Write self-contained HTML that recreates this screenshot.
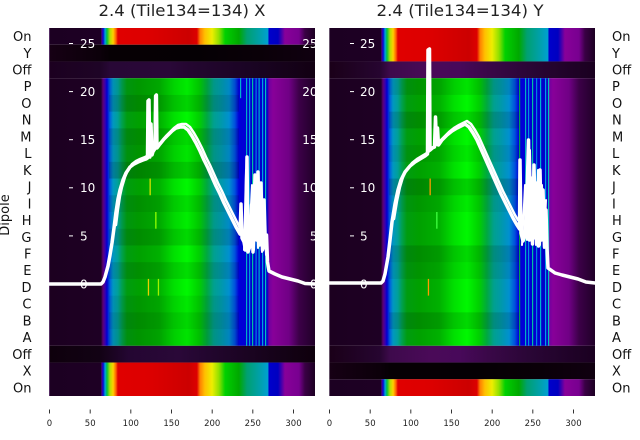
<!DOCTYPE html>
<html><head><meta charset="utf-8"><style>
html,body{margin:0;padding:0;background:#fff;}
svg{display:block;font-family:"DejaVu Sans","Liberation Sans",sans-serif;}
</style></head><body>
<svg width="640" height="440" viewBox="0 0 640 440" xmlns="http://www.w3.org/2000/svg">
<defs>
<linearGradient id="mid" gradientUnits="userSpaceOnUse" x1="0" y1="0" x2="266" y2="0">
<stop offset="0" stop-color="#1c0020"/><stop offset="0.195" stop-color="#1e0024"/>
<stop offset="0.203" stop-color="#5c0075"/><stop offset="0.211" stop-color="#3a00b0"/>
<stop offset="0.218" stop-color="#0000d0"/><stop offset="0.229" stop-color="#0060dd"/>
<stop offset="0.241" stop-color="#0098c0"/><stop offset="0.259" stop-color="#00a098"/>
<stop offset="0.274" stop-color="#00a050"/><stop offset="0.293" stop-color="#009c10"/>
<stop offset="0.338" stop-color="#00a000"/><stop offset="0.414" stop-color="#00b000"/>
<stop offset="0.470" stop-color="#00e000"/><stop offset="0.519" stop-color="#00f800"/>
<stop offset="0.564" stop-color="#00d000"/><stop offset="0.594" stop-color="#00a840"/>
<stop offset="0.620" stop-color="#00a090"/><stop offset="0.647" stop-color="#0099aa"/>
<stop offset="0.677" stop-color="#0090d0"/><stop offset="0.699" stop-color="#0050dd"/>
<stop offset="0.714" stop-color="#0000d8"/><stop offset="0.820" stop-color="#0000c8"/>
<stop offset="0.827" stop-color="#7000a0"/><stop offset="0.842" stop-color="#880099"/>
<stop offset="0.902" stop-color="#700085"/><stop offset="0.940" stop-color="#3c0048"/>
<stop offset="1" stop-color="#200028"/>
</linearGradient>
<linearGradient id="spec" gradientUnits="userSpaceOnUse" x1="0" y1="0" x2="266" y2="0">
<stop offset="0" stop-color="#1c0022"/><stop offset="0.195" stop-color="#1e0024"/>
<stop offset="0.199" stop-color="#5000a0"/><stop offset="0.203" stop-color="#0000cc"/>
<stop offset="0.211" stop-color="#00a0e0"/><stop offset="0.218" stop-color="#00c040"/>
<stop offset="0.229" stop-color="#b0e000"/><stop offset="0.241" stop-color="#ffd000"/>
<stop offset="0.252" stop-color="#ff6000"/><stop offset="0.259" stop-color="#e00000"/>
<stop offset="0.376" stop-color="#dd0000"/><stop offset="0.526" stop-color="#cc0000"/>
<stop offset="0.556" stop-color="#dd0000"/><stop offset="0.568" stop-color="#ff8000"/>
<stop offset="0.586" stop-color="#ffc000"/><stop offset="0.613" stop-color="#eeee00"/>
<stop offset="0.639" stop-color="#90e000"/><stop offset="0.662" stop-color="#00d000"/>
<stop offset="0.714" stop-color="#00a800"/><stop offset="0.744" stop-color="#00a070"/>
<stop offset="0.797" stop-color="#00a0b0"/><stop offset="0.823" stop-color="#00a0d0"/>
<stop offset="0.827" stop-color="#0000cc"/><stop offset="0.861" stop-color="#0000c0"/>
<stop offset="0.887" stop-color="#880099"/><stop offset="0.940" stop-color="#780090"/>
<stop offset="0.962" stop-color="#3a0045"/><stop offset="1" stop-color="#1c0022"/>
</linearGradient>
<linearGradient id="blk" gradientUnits="userSpaceOnUse" x1="0" y1="0" x2="266" y2="0">
<stop offset="0" stop-color="#160014"/><stop offset="0.19" stop-color="#0c000a"/>
<stop offset="0.23" stop-color="#060004"/><stop offset="0.56" stop-color="#050004"/>
<stop offset="0.79" stop-color="#0a0008"/><stop offset="1" stop-color="#100010"/>
</linearGradient>
<linearGradient id="offL" gradientUnits="userSpaceOnUse" x1="0" y1="0" x2="266" y2="0">
<stop offset="0" stop-color="#1c0020"/><stop offset="0.19" stop-color="#1e0426"/>
<stop offset="0.23" stop-color="#280836"/><stop offset="0.45" stop-color="#2a0838"/>
<stop offset="0.53" stop-color="#240630"/><stop offset="0.75" stop-color="#1a0424"/>
<stop offset="1" stop-color="#120012"/>
</linearGradient>
<linearGradient id="offL2" gradientUnits="userSpaceOnUse" x1="0" y1="0" x2="266" y2="0">
<stop offset="0" stop-color="#0e000c"/><stop offset="0.19" stop-color="#120214"/>
<stop offset="0.30" stop-color="#240632"/><stop offset="0.49" stop-color="#2a0838"/>
<stop offset="0.60" stop-color="#22062e"/><stop offset="1" stop-color="#0e000c"/>
</linearGradient>
<linearGradient id="offR" gradientUnits="userSpaceOnUse" x1="0" y1="0" x2="266" y2="0">
<stop offset="0" stop-color="#1a0018"/><stop offset="0.19" stop-color="#260530"/>
<stop offset="0.23" stop-color="#3e0a4c"/><stop offset="0.38" stop-color="#4a0a58"/>
<stop offset="0.49" stop-color="#48095a"/><stop offset="0.60" stop-color="#3a0848"/>
<stop offset="0.75" stop-color="#2a0636"/><stop offset="1" stop-color="#1a0020"/>
</linearGradient>
</defs>

<!-- Titles -->
<text x="182" y="16" font-size="16" text-anchor="middle" fill="#222" textLength="167" lengthAdjust="spacingAndGlyphs">2.4 (Tile134=134) X</text>
<text x="460" y="16" font-size="16" text-anchor="middle" fill="#222" textLength="167" lengthAdjust="spacingAndGlyphs">2.4 (Tile134=134) Y</text>

<!-- LEFT PANEL -->
<g transform="translate(49,0)">
<rect x="0" y="28" width="266" height="16.73" fill="url(#spec)"/>
<rect x="0" y="44.73" width="266" height="16.73" fill="url(#blk)"/>
<rect x="0" y="61.45" width="266" height="16.73" fill="url(#offL)"/>
<rect x="0" y="78.18" width="266" height="267.64" fill="url(#mid)"/>
<rect x="0" y="345.82" width="266" height="16.73" fill="url(#offL2)"/>
<rect x="0" y="362.55" width="266" height="33.45" fill="url(#spec)"/>
<g fill="#000">
<rect x="60" y="78.18" width="130" height="16.73" opacity="0.05"/>
<rect x="60" y="94.91" width="130" height="16.73" opacity="0.14"/>
<rect x="60" y="128.36" width="130" height="16.73" opacity="0.12"/>
<rect x="60" y="145.09" width="130" height="16.73" opacity="0.07"/>
<rect x="60" y="161.82" width="130" height="16.73" opacity="0.18"/>
<rect x="60" y="195.27" width="130" height="16.73" opacity="0.1"/>
<rect x="60" y="212" width="130" height="16.73" opacity="0.04"/>
<rect x="60" y="228.73" width="130" height="16.73" opacity="0.12"/>
<rect x="60" y="262.18" width="130" height="16.73" opacity="0.1"/>
<rect x="60" y="295.64" width="130" height="16.73" opacity="0.06"/>
<rect x="60" y="312.36" width="130" height="16.73" opacity="0.13"/>
<rect x="60" y="329.09" width="130" height="16.73" opacity="0.08"/>
</g>
<g>
<rect x="191" y="78.18" width="1.2" height="20" fill="#00b0d0"/>
<rect x="197" y="78.18" width="1.2" height="267.64" fill="#00b0c0"/>
<rect x="200" y="78.18" width="1.2" height="267.64" fill="#0090e0"/>
<rect x="203" y="78.18" width="1.2" height="267.64" fill="#00c0a0"/>
<rect x="206.5" y="78.18" width="1.2" height="267.64" fill="#0080e0"/>
<rect x="209.5" y="78.18" width="1.2" height="267.64" fill="#00b0d0"/>
<rect x="213" y="78.18" width="1.2" height="267.64" fill="#00a0e0"/>
<rect x="216" y="78.18" width="1.2" height="267.64" fill="#00c0c0"/>
</g>
<rect x="100.5" y="178.55" width="1.3" height="16.7" fill="#d8e000"/>
<rect x="106.2" y="212" width="1.3" height="16.7" fill="#90ff00"/>
<rect x="98.8" y="278.91" width="1.3" height="16.7" fill="#e8d000"/>
<rect x="108.8" y="278.91" width="1.3" height="16.7" fill="#a0f000"/>
<rect x="0" y="28" width="1" height="368" fill="#7a4a90" opacity="0.6"/>
</g>

<!-- RIGHT PANEL -->
<g transform="translate(329,0)">
<rect x="0" y="28" width="266" height="33.45" fill="url(#spec)"/>
<rect x="0" y="61.45" width="266" height="16.73" fill="url(#offR)"/>
<rect x="0" y="78.18" width="266" height="267.64" fill="url(#mid)"/>
<rect x="0" y="345.82" width="266" height="16.73" fill="url(#offR)"/>
<rect x="0" y="362.55" width="266" height="16.73" fill="url(#blk)"/>
<rect x="0" y="379.27" width="266" height="16.73" fill="url(#spec)"/>
<g fill="#000">
<rect x="60" y="78.18" width="130" height="16.73" opacity="0.08"/>
<rect x="60" y="111.64" width="130" height="16.73" opacity="0.12"/>
<rect x="60" y="145.09" width="130" height="16.73" opacity="0.06"/>
<rect x="60" y="178.55" width="130" height="16.73" opacity="0.15"/>
<rect x="60" y="195.27" width="130" height="16.73" opacity="0.05"/>
<rect x="60" y="245.45" width="130" height="16.73" opacity="0.12"/>
<rect x="60" y="262.18" width="130" height="16.73" opacity="0.07"/>
<rect x="60" y="312.36" width="130" height="16.73" opacity="0.12"/>
</g>
<g>
<rect x="190" y="78.18" width="1.2" height="267.64" fill="#00a050"/>
<rect x="196" y="78.18" width="1.2" height="267.64" fill="#00b0c0"/>
<rect x="199" y="78.18" width="1.2" height="267.64" fill="#0090e0"/>
<rect x="203" y="78.18" width="1.2" height="267.64" fill="#00c0a0"/>
<rect x="207" y="78.18" width="1.2" height="267.64" fill="#0080e0"/>
<rect x="211" y="78.18" width="1.2" height="267.64" fill="#00b0d0"/>
<rect x="216" y="78.18" width="1.2" height="267.64" fill="#00a0e0"/>
<rect x="219" y="78.18" width="1.2" height="267.64" fill="#00c0c0"/>
</g>
<rect x="100.5" y="178.55" width="1.3" height="16.7" fill="#ff9a00"/>
<rect x="107.2" y="212" width="1.3" height="16.7" fill="#40ff40"/>
<rect x="98.8" y="278.91" width="1.3" height="16.7" fill="#ff9a00"/>
<rect x="0" y="28" width="1" height="368" fill="#9a8aa0" opacity="0.6"/>
</g>

<!-- Curves -->
<g fill="none" stroke="#fff" stroke-linejoin="round" stroke-linecap="round">
<polyline stroke-width="3.5" points="49,284 101,284 103,282 105,277 108,266 110,255 112,243 114,228 116,212 118,199 120,190 123,180 126,173 130,167 134,164 138,162 143,160 146,159 147.5,158 148,101 149,100 149.8,157 151,124 152,155 153.5,150 155,146 155.6,96 156.4,95 157,148 160,144 164,139 168,135 172,131 176,128 180,127 184,127 188,130 192,136 196,143 200,151 204,160 208,168 212,177 216,186 220,194 224,203 228,211 232,219 236,227 240,234 241,204 242,238 244,242 245.5,250 247,157 248,252 250,246 251.5,205 253,252 255,175 256.5,240 258,172 259.5,245 261,183 262.5,250 264,200 265.5,248 266.5,235 267.5,262 269,271 275,274 282,277 290,279 298,281 305,283.5 315,284"/>
<polyline stroke-width="2.5" transform="translate(2,-3)" points="114,228 116,212 118,199 120,190 123,180 126,173 130,167 134,164 138,162 143,160 147,158 152,154 156,148 160,144 164,139 168,135 172,131 176,128 180,127 184,127 188,130 192,136 196,143 200,151 204,160 208,168 212,177 216,186 220,194 224,203 228,211 232,219 236,227 238,231"/>
<polyline stroke-width="2" points="244,250 246,170 249,245 252,185 254,250 256,178 258,248 260,190 262,252 264,215 266,255"/>

<polyline stroke-width="3.5" points="329,283 381,283 383,281 385,274 388,257 390,240 392,222 395,204 398,190 401,180 405,172 410,166 415,162 420,159 425,156 427.5,154 428,50 429.5,49 430,150 432,148 434.5,147 435.5,117 436.5,143 437.5,128 438.5,145 442,140 447,135 452,131 457,128 461,126 465,124 469,127 473,133 477,140 481,149 485,158 489,167 493,176 497,185 501,194 505,202 509,210 513,218 517,225 519.5,229 520,160 521,233 523,241 525,236 527,195 528.5,140 529.5,240 531,178 532.5,244 534,165 535.5,238 537,183 538.5,246 540,170 541.5,240 543,190 544.5,247 546,210 547,248 548,268 555,273 562,275 570,277 578,279 586,282 595,283"/>
<polyline stroke-width="2.5" transform="translate(2,-3)" points="392,222 395,204 398,190 401,180 405,172 410,166 415,162 420,159 425,156 430,152 436,146 442,140 447,135 452,131 457,128 461,126 465,124 469,127 473,133 477,140 481,149 485,158 489,167 493,176 497,185 501,194 505,202 509,210 513,218 516,223"/>
<polyline stroke-width="2" points="522,245 525,185 527,240 530,150 532,242 534,175 536,245 538,170 540,245 542,185 544,248 546,200"/>
</g>

<!-- inner y tick marks and labels -->
<g stroke="#fff" stroke-width="1">
<line x1="69" y1="43.5" x2="73" y2="43.5"/><line x1="69" y1="91.6" x2="73" y2="91.6"/>
<line x1="69" y1="139.7" x2="73" y2="139.7"/><line x1="69" y1="187.8" x2="73" y2="187.8"/>
<line x1="69" y1="235.9" x2="73" y2="235.9"/><line x1="69" y1="284" x2="73" y2="284"/>
<line x1="350" y1="43.5" x2="354" y2="43.5"/><line x1="350" y1="91.6" x2="354" y2="91.6"/>
<line x1="350" y1="139.7" x2="354" y2="139.7"/><line x1="350" y1="187.8" x2="354" y2="187.8"/>
<line x1="350" y1="235.9" x2="354" y2="235.9"/><line x1="350" y1="284" x2="354" y2="284"/>
</g>
<g fill="#fff" font-size="12">
<text x="80" y="47.9">25</text><text x="80" y="96">20</text><text x="80" y="144.1">15</text>
<text x="80" y="192.2">10</text><text x="80" y="240.3">5</text><text x="80" y="288.4">0</text>
<text x="360" y="47.9">25</text><text x="360" y="96">20</text><text x="360" y="144.1">15</text>
<text x="360" y="192.2">10</text><text x="360" y="240.3">5</text><text x="360" y="288.4">0</text>
</g>
<g fill="#fff" font-size="12" text-anchor="end">
<text x="317.5" y="47.9">25</text><text x="317.5" y="96">20</text><text x="317.5" y="144.1">15</text>
<text x="317.5" y="192.2">10</text><text x="317.5" y="240.3">5</text><text x="317.5" y="288.4">0</text>
</g>
<rect x="315" y="28" width="14" height="368" fill="#fff"/>

<!-- row labels left -->
<g fill="#111" font-size="13" text-anchor="end">
<text x="31.5" y="41.1">On</text><text x="31.5" y="57.8">Y</text><text x="31.5" y="74.5">Off</text>
<text x="31.5" y="91.2">P</text><text x="31.5" y="108">O</text><text x="31.5" y="124.7">N</text>
<text x="31.5" y="141.4">M</text><text x="31.5" y="158.2">L</text><text x="31.5" y="174.9">K</text>
<text x="31.5" y="191.6">J</text><text x="31.5" y="208.3">I</text><text x="31.5" y="225.1">H</text>
<text x="31.5" y="241.8">G</text><text x="31.5" y="258.5">F</text><text x="31.5" y="275.2">E</text>
<text x="31.5" y="292">D</text><text x="31.5" y="308.7">C</text><text x="31.5" y="325.4">B</text>
<text x="31.5" y="342.2">A</text><text x="31.5" y="358.9">Off</text><text x="31.5" y="375.6">X</text>
<text x="31.5" y="392.3">On</text>
</g>
<g fill="#111" font-size="13">
<text x="612" y="41.1">On</text><text x="612" y="57.8">Y</text><text x="612" y="74.5">Off</text>
<text x="612" y="91.2">P</text><text x="612" y="108">O</text><text x="612" y="124.7">N</text>
<text x="612" y="141.4">M</text><text x="612" y="158.2">L</text><text x="612" y="174.9">K</text>
<text x="612" y="191.6">J</text><text x="612" y="208.3">I</text><text x="612" y="225.1">H</text>
<text x="612" y="241.8">G</text><text x="612" y="258.5">F</text><text x="612" y="275.2">E</text>
<text x="612" y="292">D</text><text x="612" y="308.7">C</text><text x="612" y="325.4">B</text>
<text x="612" y="342.2">A</text><text x="612" y="358.9">Off</text><text x="612" y="375.6">X</text>
<text x="612" y="392.3">On</text>
</g>
<text transform="translate(9,215) rotate(-90)" font-size="13" fill="#111" text-anchor="middle">Dipole</text>

<!-- x ticks -->
<g stroke="#333" stroke-width="1">
<line x1="49.5" y1="409.5" x2="49.5" y2="413.5"/><line x1="90.2" y1="409.5" x2="90.2" y2="413.5"/>
<line x1="130.8" y1="409.5" x2="130.8" y2="413.5"/><line x1="171.5" y1="409.5" x2="171.5" y2="413.5"/>
<line x1="212.2" y1="409.5" x2="212.2" y2="413.5"/><line x1="252.8" y1="409.5" x2="252.8" y2="413.5"/>
<line x1="293.5" y1="409.5" x2="293.5" y2="413.5"/>
<line x1="329.5" y1="409.5" x2="329.5" y2="413.5"/><line x1="370.2" y1="409.5" x2="370.2" y2="413.5"/>
<line x1="410.8" y1="409.5" x2="410.8" y2="413.5"/><line x1="451.5" y1="409.5" x2="451.5" y2="413.5"/>
<line x1="492.2" y1="409.5" x2="492.2" y2="413.5"/><line x1="532.8" y1="409.5" x2="532.8" y2="413.5"/>
<line x1="573.5" y1="409.5" x2="573.5" y2="413.5"/>
</g>
<g fill="#222" font-size="8.5" text-anchor="middle">
<text x="49.5" y="426">0</text><text x="90.2" y="426">50</text><text x="130.8" y="426">100</text>
<text x="171.5" y="426">150</text><text x="212.2" y="426">200</text><text x="252.8" y="426">250</text>
<text x="293.5" y="426">300</text>
<text x="329.5" y="426">0</text><text x="370.2" y="426">50</text><text x="410.8" y="426">100</text>
<text x="451.5" y="426">150</text><text x="492.2" y="426">200</text><text x="532.8" y="426">250</text>
<text x="573.5" y="426">300</text>
</g>
</svg>
</body></html>
